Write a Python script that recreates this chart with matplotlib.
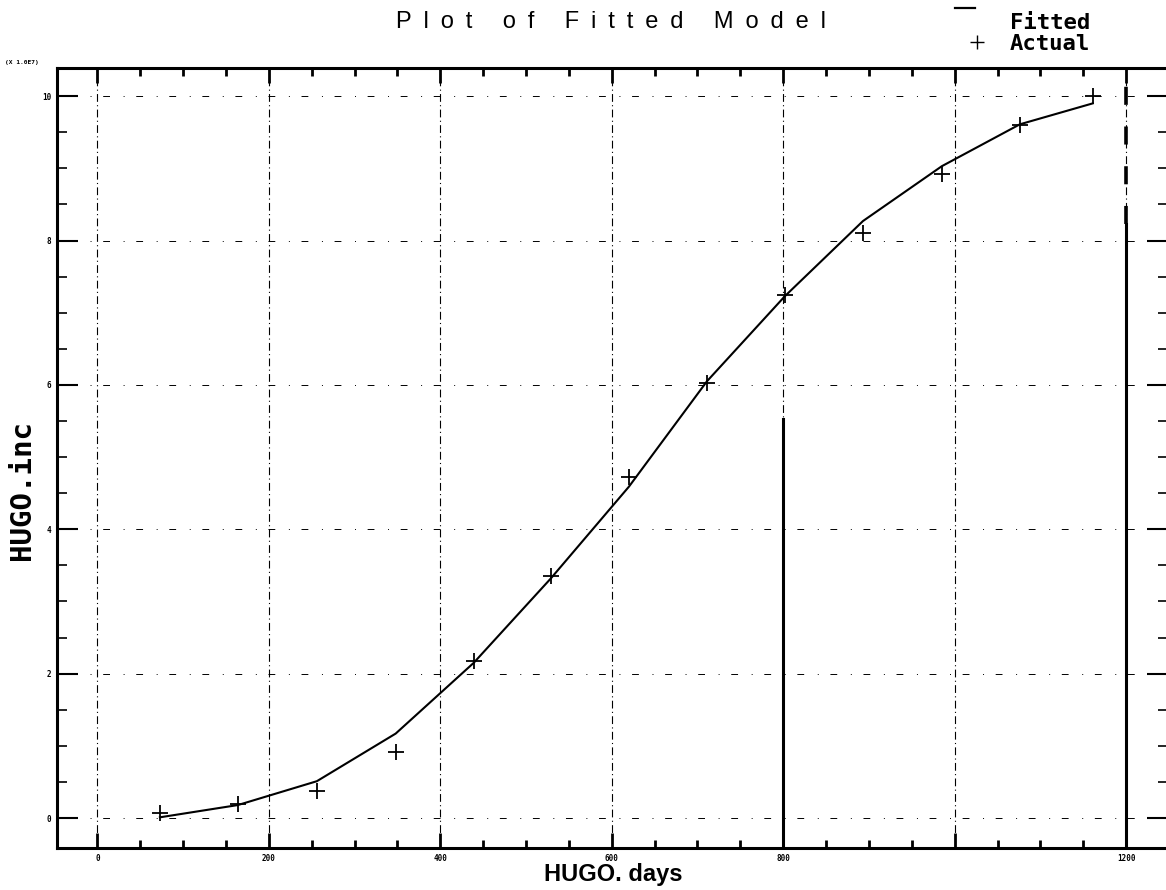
import matplotlib
matplotlib.use('Agg')
import matplotlib.pyplot as plt
from matplotlib.lines import Line2D
from matplotlib.ticker import MultipleLocator

# HUGO data: days vs cumulative inc (units of 1e7)
days = [73, 164, 256, 348, 439, 529, 620, 711, 802, 893, 985, 1076, 1161]
actual = [0.065, 0.19, 0.38, 0.91, 2.17, 3.35, 4.72, 6.03, 7.25, 8.10, 8.92, 9.60, 10.0]
fitted = [0.01, 0.18, 0.51, 1.17, 2.15, 3.32, 4.59, 6.05, 7.23, 8.27, 9.03, 9.61, 9.90]

x_ticks = [0, 200, 400, 600, 800, 1000, 1200]
x_tick_labels = ['0', '200', '400', '600', '800', '', '1200']
y_ticks = [0, 2, 4, 6, 8, 10]
y_tick_labels = ['0', '2', '4', '6', '8', '10']

fig = plt.figure(figsize=(11.66, 8.90), dpi=100)
ax = fig.add_axes([0.0489, 0.0472, 0.9530, 0.8764])

# scan-like grid
for xv in x_ticks:
    ax.axvline(xv, color='black', lw=0.8, linestyle=(0, (7, 3, 1, 3)), zorder=1)
for yv in y_ticks:
    ax.axhline(yv, color='black', lw=0.7, linestyle=(0, (1, 12, 7, 14)), zorder=1)
# heavy scan artifacts on two grid lines
ax.axvline(800, ymin=0.0, ymax=0.55, color='black', lw=2.2, zorder=1)
ax.axvline(1200, ymin=0.0, ymax=0.80, color='black', lw=2.2, zorder=1)
ax.axvline(1200, ymin=0.80, ymax=1.0, color='black', lw=2.6, linestyle=(0, (5, 6)), zorder=1)

ax.plot(days, fitted, color='black', lw=1.5, zorder=3)
ax.plot(days, actual, linestyle='none', marker='+', color='black',
        markersize=11, markeredgewidth=1.3, zorder=4)

ax.set_xlim(-47, 1249)
ax.set_ylim(-0.415, 10.39)

ax.set_xticks(x_ticks)
ax.set_xticklabels(x_tick_labels)
ax.set_yticks(y_ticks)
ax.set_yticklabels(y_tick_labels)
ax.xaxis.set_minor_locator(MultipleLocator(50))
ax.yaxis.set_minor_locator(MultipleLocator(0.5))

ax.tick_params(axis='x', which='major', direction='in', length=11, width=2,
               top=True, bottom=True, labelsize=5.5, pad=4)
ax.tick_params(axis='x', which='minor', direction='in', length=6, width=2,
               top=True, bottom=True)
ax.tick_params(axis='y', which='major', direction='in', length=15, width=1.5,
               left=True, right=True, labelsize=5.5, pad=4)
ax.tick_params(axis='y', which='minor', direction='in', length=7, width=1.2,
               left=True, right=True)
for lab in ax.get_xticklabels() + ax.get_yticklabels():
    lab.set_fontweight('bold')
    lab.set_family('DejaVu Sans Mono')

for side in ['left', 'bottom', 'top', 'right']:
    ax.spines[side].set_linewidth(2.2)

fig.text(0.004, 0.930, '(X 1.0E7)', fontsize=4.5, fontweight='bold',
         family='DejaVu Sans Mono', ha='left', va='center')

# title with wide letter spacing
title = 'Plot of Fitted Model'
fig.text(0.524, 0.975, '\u2002'.join(title), fontsize=17,
         family=['Liberation Sans', 'DejaVu Sans'], color='black',
         ha='center', va='center')

fig.text(0.526, 1 - 881 / 890, 'HUGO. days', fontsize=17, fontweight='bold',
         family='Liberation Sans', ha='center', va='baseline')
fig.text(0.019, 0.449, 'HUGO.inc', fontsize=21, fontweight='bold',
         family='DejaVu Sans Mono', rotation=90, ha='center', va='center')

# legend in the top right corner
fig.add_artist(Line2D([955 / 1166, 975 / 1166], [1 - 8 / 890, 1 - 8 / 890],
                      color='black', lw=1.6, transform=fig.transFigure))
fig.add_artist(Line2D([977 / 1166], [1 - 42 / 890], marker='+', color='black',
                      markersize=10, markeredgewidth=1.0, linestyle='none',
                      transform=fig.transFigure))
fig.text(1010 / 1166, 1 - 29 / 890, 'Fitted', fontsize=16, fontweight='bold',
         family='DejaVu Sans Mono', ha='left', va='baseline')
fig.text(1010 / 1166, 1 - 50 / 890, 'Actual', fontsize=16, fontweight='bold',
         family='DejaVu Sans Mono', ha='left', va='baseline')

fig.savefig('out.png', dpi=100)
